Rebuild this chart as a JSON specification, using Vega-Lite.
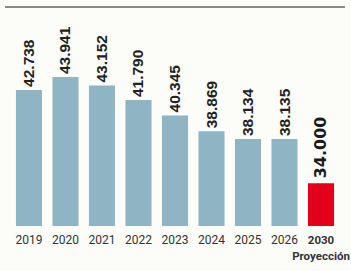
{
  "$schema": "https://vega.github.io/schema/vega-lite/v6.json",
  "width": 340,
  "height": 219,
  "autosize": {"type": "none"},
  "padding": {"left": 5, "top": 7, "right": 6, "bottom": 45},
  "background": "#fcfcf8",
  "config": {"view": {"stroke": null}},
  "data": {
    "values": [
      {"year": "2019", "value": 42738, "label": "42.738", "kind": "real"},
      {"year": "2020", "value": 43941, "label": "43.941", "kind": "real"},
      {"year": "2021", "value": 43152, "label": "43.152", "kind": "real"},
      {"year": "2022", "value": 41790, "label": "41.790", "kind": "real"},
      {"year": "2023", "value": 40345, "label": "40.345", "kind": "real"},
      {"year": "2024", "value": 38869, "label": "38.869", "kind": "real"},
      {"year": "2025", "value": 38134, "label": "38.134", "kind": "real"},
      {"year": "2026", "value": 38135, "label": "38.135", "kind": "real"},
      {"year": "2030", "value": 34000, "label": "34.000", "kind": "proj"}
    ]
  },
  "encoding": {
    "x": {
      "field": "year",
      "type": "nominal",
      "scale": {"paddingInner": 0.286, "paddingOuter": 0.3},
      "axis": {
        "title": null,
        "labelAngle": 0,
        "ticks": false,
        "domain": false,
        "labelPadding": 8,
        "labelFont": "Roboto",
        "labelFontSize": {"condition": {"test": "datum.value == '2030'", "value": 11.5}, "value": 12},
        "labelColor": "#333333",
        "labelLineHeight": 16,
        "labelBaseline": "top",
        "labelExpr": "datum.value == '2030' ? ['2030', 'Proyección'] : datum.value",
        "labelFontWeight": {"condition": {"test": "datum.value == '2030'", "value": "bold"}, "value": "normal"}
      }
    },
    "y": {
      "field": "value",
      "type": "quantitative",
      "scale": {"domain": [30000, 50500], "zero": false},
      "axis": null
    }
  },
  "layer": [
    {
      "mark": {"type": "rule", "stroke": "#8a8a8a", "strokeWidth": 1.5},
      "encoding": {"x": null, "y": {"datum": 50500, "type": "quantitative"}}
    },
    {
      "mark": {"type": "bar", "clip": true},
      "encoding": {
        "color": {
          "field": "kind",
          "type": "nominal",
          "scale": {"domain": ["real", "proj"], "range": ["#8fb4c3", "#e3001b"]},
          "legend": null
        }
      }
    },
    {
      "transform": [{"filter": "datum.kind == 'real'"}],
      "mark": {
        "type": "text",
        "angle": 270,
        "align": "left",
        "baseline": "middle",
        "dx": 3,
        "font": "Liberation Sans",
        "fontWeight": "bold",
        "fontSize": 15.5,
        "color": "#222222"
      },
      "encoding": {"text": {"field": "label"}}
    },
    {
      "transform": [{"filter": "datum.kind == 'proj'"}],
      "mark": {
        "type": "text",
        "angle": 270,
        "align": "left",
        "baseline": "middle",
        "dx": 5,
        "font": "DejaVu Sans",
        "fontWeight": "bold",
        "fontSize": 16,
        "color": "#1a1a1a"
      },
      "encoding": {"text": {"field": "label"}}
    }
  ]
}
